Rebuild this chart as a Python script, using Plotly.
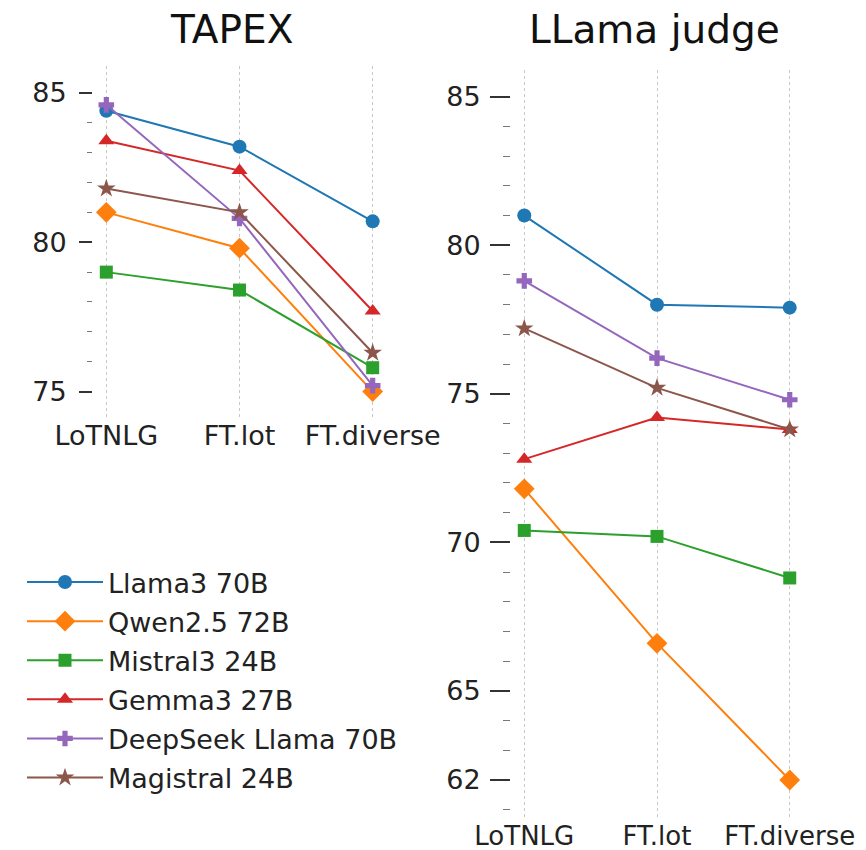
import plotly.graph_objects as go

categories = ["LoTNLG", "FT.lot", "FT.diverse"]
models = ["Llama3 70B", "Qwen2.5 72B", "Mistral3 24B", "Gemma3 27B", "DeepSeek Llama 70B", "Magistral 24B"]

tapex_llama3 = [84.4, 83.2, 80.7]
tapex_qwen = [81.0, 79.8, 75.0]
tapex_mistral = [79.0, 78.4, 75.8]
tapex_gemma = [83.4, 82.4, 77.7]
tapex_deepseek = [84.6, 80.8, 75.2]
tapex_magistral = [81.8, 81.0, 76.3]

judge_llama3 = [81.0, 78.0, 77.9]
judge_qwen = [71.8, 66.6, 62.0]
judge_mistral = [70.4, 70.2, 68.8]
judge_gemma = [72.8, 74.2, 73.8]
judge_deepseek = [78.8, 76.2, 74.8]
judge_magistral = [77.2, 75.2, 73.8]

tapex_series = [tapex_llama3, tapex_qwen, tapex_mistral, tapex_gemma, tapex_deepseek, tapex_magistral]
judge_series = [judge_llama3, judge_qwen, judge_mistral, judge_gemma, judge_deepseek, judge_magistral]

left_ticks = [75, 80, 85]
right_ticks = [62, 65, 70, 75, 80, 85]

colors = ["#1f77b4", "#ff7f0e", "#2ca02c", "#d62728", "#9467bd", "#8c564b"]
symbols = ["circle", "diamond", "square", "triangle-up", "cross", "star"]
sizes = [14, 16, 13, 14, 13, 14]

FONT = "DejaVu Sans"
fig = go.Figure()

for i, name in enumerate(models):
    fig.add_trace(go.Scatter(
        x=categories, y=tapex_series[i], mode="lines+markers", name=name,
        legendgroup=name, showlegend=True,
        line=dict(color=colors[i], width=2),
        marker=dict(symbol=symbols[i], size=sizes[i], color=colors[i], line=dict(width=0)),
        xaxis="x", yaxis="y"))
for i, name in enumerate(models):
    fig.add_trace(go.Scatter(
        x=categories, y=judge_series[i], mode="lines+markers", name=name,
        legendgroup=name, showlegend=False,
        line=dict(color=colors[i], width=2),
        marker=dict(symbol=symbols[i], size=sizes[i], color=colors[i], line=dict(width=0)),
        xaxis="x2", yaxis="y2"))

xcommon = dict(type="category", range=[-0.1, 2.1], showline=False, zeroline=False,
               showgrid=True, gridcolor="#c8c8c8", gridwidth=1, griddash="dot",
               ticks="", automargin=False)

fig.update_layout(
    width=866, height=850,
    margin=dict(l=0, r=0, t=0, b=0),
    paper_bgcolor="white", plot_bgcolor="white",
    font=dict(family=FONT, color="#222"),
    xaxis=dict(domain=[93/866, 386/866], anchor="y",
               tickfont=dict(family=FONT, size=27, color="#222"), **xcommon),
    xaxis2=dict(domain=[511/866, 803/866], anchor="y2",
                tickfont=dict(family=FONT, size=26, color="#222"), **xcommon),
    yaxis=dict(domain=[(850-417)/850, (850-66)/850], anchor="x", range=[74.15, 85.9],
               tickvals=left_ticks, showgrid=False, zeroline=False, showline=False,
               ticks="outside", ticklen=13, tickwidth=1.5, tickcolor="#333",
               ticklabelstandoff=7, automargin=False,
               tickfont=dict(family=FONT, size=27, color="#222"),
               minor=dict(ticks="outside", ticklen=5, tickwidth=1, tickcolor="#777",
                          tick0=0, dtick=1, showgrid=False)),
    yaxis2=dict(domain=[(850-818)/850, (850-70)/850], anchor="x2", range=[60.72, 85.9],
                tickvals=right_ticks, showgrid=False, zeroline=False, showline=False,
                ticks="outside", ticklen=20, tickwidth=1.5, tickcolor="#333",
                ticklabelstandoff=4, automargin=False,
                tickfont=dict(family=FONT, size=27, color="#222"),
                minor=dict(ticks="outside", ticklen=7, tickwidth=1, tickcolor="#777",
                           tick0=0, dtick=1, showgrid=False)),
    legend=dict(x=22/866, y=1-558/850, xanchor="left", yanchor="top",
                font=dict(family=FONT, size=27, color="#222"),
                bgcolor="rgba(0,0,0,0)", tracegroupgap=1, itemwidth=76),
    annotations=[
        dict(text="TAPEX", x=231/866, y=1-29/850, xref="paper", yref="paper",
             xanchor="center", yanchor="middle", showarrow=False,
             font=dict(family=FONT, size=39, color="#111")),
        dict(text="LLama judge", x=654/866, y=1-30/850, xref="paper", yref="paper",
             xanchor="center", yanchor="middle", showarrow=False,
             font=dict(family=FONT, size=39, color="#111")),
    ],
)

fig.write_html("out.html")
